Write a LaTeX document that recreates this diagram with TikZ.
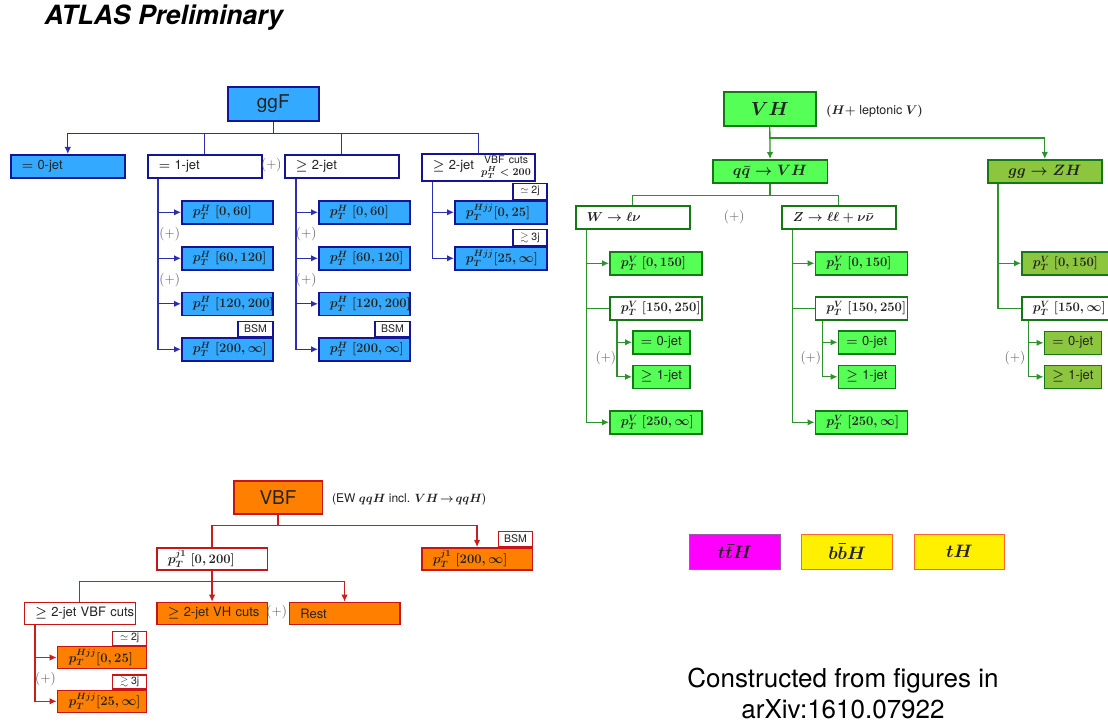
\RequirePackage{fix-cm}
\documentclass[tikz,border=0pt]{standalone}
\usepackage{amsmath,amssymb}
\usepackage[no-math]{fontspec}
\setmainfont{TeX Gyre Heros}
\usetikzlibrary{arrows.meta}

\newcommand\fsz[1]{\fontsize{#1}{#1}\selectfont}

% palette
\definecolor{ggblue}{RGB}{51,170,255}
\definecolor{ggedge}{RGB}{20,20,150}
\definecolor{ggwire}{RGB}{45,45,175}
\definecolor{vhgreen}{RGB}{85,255,85}
\definecolor{zhgreen}{RGB}{140,198,63}
\definecolor{vhedge}{RGB}{20,120,20}
\definecolor{vhwire}{RGB}{45,145,45}
\definecolor{vbforange}{RGB}{255,128,0}
\definecolor{vbfedge}{RGB}{200,20,20}
\definecolor{vbfwire}{RGB}{200,30,30}
\definecolor{tthmag}{RGB}{255,0,255}
\definecolor{tthedge}{RGB}{160,90,170}
\definecolor{bbhyellow}{RGB}{255,240,0}
\definecolor{bbhedge}{RGB}{255,100,50}
\definecolor{inkgray}{RGB}{35,35,35}
\definecolor{plusgray}{RGB}{85,85,85}

\tikzset{
  x=1pt, y=-1pt,
  boxbase/.style={rectangle, draw, line width=1.6pt, anchor=north west,
               inner xsep=0pt, inner ysep=0pt, minimum height=23pt,
               text=inkgray, font=\fsz{13}\boldmath},
  % left-aligned label, 11pt in from the left edge; width given as text width
  cell/.style={boxbase, align=left, execute at begin node={\noindent\hspace*{11pt}}},
  sub/.style={boxbase, align=left, text width=57pt, execute at begin node={\noindent\hspace*{8pt}}},
  head/.style={boxbase, align=center, font=\fsz{19}\boldmath},
  % ggF family
  ggf/.style={draw=ggedge, fill=ggblue},
  ggo/.style={draw=ggedge, fill=white},
  ggw/.style={draw=ggwire, line width=1.3pt},
  % VH family
  vhf/.style={draw=vhedge, fill=vhgreen},
  zhf/.style={draw=vhedge, fill=zhgreen},
  vho/.style={draw=vhedge, fill=white},
  vhw/.style={draw=vhwire, line width=1.3pt},
  % VBF family
  vbf/.style={draw=vbfedge, fill=vbforange},
  vbo/.style={draw=vbfedge, fill=white},
  vbw/.style={draw=vbfwire, line width=1.3pt},
  % small corner labels sitting on a box
  tag/.style={rectangle, draw, fill=white, line width=1.2pt, anchor=south east,
              inner sep=0pt, minimum width=34pt, minimum height=15pt,
              text=inkgray, font=\fsz{10.5}},
  plus/.style={text=plusgray, inner sep=0pt, font=\fsz{13.5}},
  note/.style={anchor=west, inner sep=0pt, text=inkgray, font=\fsz{12.5}\boldmath},
  tip/.style={-{Latex[length=7pt,width=6.5pt]}},
}

\begin{document}
\begin{tikzpicture}
\clip (0,0) rectangle (1108,722);
\fill[white] (0,0) rectangle (1108,722);

\node[anchor=base west, inner sep=0pt, font=\fsz{26.5}\bfseries\itshape] (title) at (44.5,25) {ATLAS Preliminary};

% ---------------- ggF ----------------
\node[head, ggf, minimum width=91pt, minimum height=34pt] (ggF) at (227,86) {ggF};
\node[cell, ggf, text width=114pt] (zero) at (10,154) {$=$ 0-jet};
\node[cell, ggo, text width=114pt] (one)  at (147,154) {$=$ 1-jet};
\node[cell, ggo, text width=114pt] (two)  at (284,154) {$\geq$ 2-jet};
\node[cell, ggo, text width=113pt, minimum height=27pt] (vbfc) at (421,153)
  {$\geq$ 2-jet\hfill{\fontsize{10.5}{11.5}\selectfont\begin{tabular}{@{}c@{}}VBF cuts\\$p_T^H<200$\end{tabular}}\hspace*{4pt}};
\node[plus] (plA) at (271.3,165.5) {$(+)$};

\node[cell, ggf, text width=91pt] (oa) at (181,200)   {$p_T^H\ [0,60]$};
\node[cell, ggf, text width=91pt] (ob) at (181,246)   {$p_T^H\ [60,120]$};
\node[cell, ggf, text width=91pt] (oc) at (181,291.5) {$p_T^H\ [120,200]$};
\node[cell, ggf, text width=91pt] (od) at (181,337)   {$p_T^H\ [200,\infty]$};
\node[tag, ggo, minimum width=35pt] (odt) at (od.north east) {BSM};
\node[plus] (plB) at (169.7,234.3) {$(+)$};
\node[plus] (plC) at (169.7,280) {$(+)$};

\node[cell, ggf, text width=91pt] (ta) at (318,200)   {$p_T^H\ [0,60]$};
\node[cell, ggf, text width=91pt] (tb) at (318,246)   {$p_T^H\ [60,120]$};
\node[cell, ggf, text width=91pt] (tc) at (318,291.5) {$p_T^H\ [120,200]$};
\node[cell, ggf, text width=91pt] (td) at (318,337)   {$p_T^H\ [200,\infty]$};
\node[tag, ggo, minimum width=35pt] (tdt) at (td.north east) {BSM};
\node[plus] (plD) at (306.2,234.3) {$(+)$};
\node[plus] (plE) at (306.2,280) {$(+)$};

\node[cell, ggf, text width=92pt] (va) at (454,200) {$p_T^{Hjj}[0,25]$};
\node[cell, ggf, text width=92pt] (vb) at (454,246) {$p_T^{Hjj}[25,\infty]$};
\node[tag, ggo, minimum height=16pt] (vat) at (va.north east) {$\simeq$ 2j};
\node[tag, ggo, minimum height=16pt] (vbt) at (vb.north east) {$\gtrsim$ 3j};

\draw[ggw] (ggF.south) -- ++(0,12) coordinate (ggbus);
\draw[ggw,tip] (ggbus) -| (zero.north);
\draw[ggw] (ggbus) -| (one.north);
\draw[ggw] (ggbus) -| (two.north);
\draw[ggw] (ggbus) -| (vbfc.north);
\foreach \c in {oa,ob,oc,od} \draw[ggw,tip] ([xshift=11pt]one.south west) |- (\c.west);
\foreach \c in {ta,tb,tc,td} \draw[ggw,tip] ([xshift=12pt]two.south west) |- (\c.west);
\foreach \c in {va,vb} \draw[ggw,tip] ([xshift=11.5pt]vbfc.south west) |- (\c.west);

% ---------------- VH ----------------
\node[head, vhf, minimum width=92pt, minimum height=34pt] (VH) at (723,91) {$VH$};
\node[note] (vhnote) at (826,111) {$(H+$ leptonic $V)$};
\node[head, vhf, minimum width=114.5pt, minimum height=23.5pt, font=\fsz{15}\boldmath] (qq) at (712,159) {$q\bar q\rightarrow VH$};
\node[head, zhf, minimum width=114pt, minimum height=23.5pt, font=\fsz{15}\boldmath] (zh) at (987,159) {$gg\rightarrow ZH$};
\node[cell, vho, text width=114pt] (wl) at (575,205) {$W\rightarrow \ell\nu$};
\node[cell, vho, text width=114pt] (zl) at (781,205) {$Z\rightarrow \ell\ell+\nu\bar\nu$};
\node[plus] (plF) at (734.2,217) {$(+)$};

\node[cell, vhf, text width=92pt] (wa)  at (609,251) {$p_T^V\ [0,150]$};
\node[cell, vho, text width=92pt] (wb)  at (609,296) {$p_T^V\ [150,250]$};
\node[sub,  vhf] (wc0) at (632,330)   {$=$ 0-jet};
\node[sub,  vhf] (wc1) at (632,364.5) {$\geq$ 1-jet};
\node[cell, vhf, text width=92pt] (wd)  at (609,410) {$p_T^V\ [250,\infty]$};
\node[plus] (plG) at (605.8,358.3) {$(+)$};

\node[cell, vhf, text width=92pt] (za)  at (814.5,251) {$p_T^V\ [0,150]$};
\node[cell, vho, text width=92pt] (zb)  at (814.5,296) {$p_T^V\ [150,250]$};
\node[sub,  vhf] (zc0) at (837.5,330)   {$=$ 0-jet};
\node[sub,  vhf] (zc1) at (837.5,364.5) {$\geq$ 1-jet};
\node[cell, vhf, text width=92pt] (zd)  at (814.5,410) {$p_T^V\ [250,\infty]$};
\node[plus] (plH) at (810.8,358.3) {$(+)$};

\node[cell, zhf, text width=92pt] (ga)  at (1021,251) {$p_T^V\ [0,150]$};
\node[cell, vho, text width=92pt] (gb)  at (1021,296) {$p_T^V\ [150,\infty]$};
\node[sub,  zhf] (gc0) at (1043.5,330.5) {$=$ 0-jet};
\node[sub,  zhf] (gc1) at (1043.5,364.5) {$\geq$ 1-jet};
\node[plus] (plI) at (1015,358.3) {$(+)$};

\draw[vhw,tip] (VH.south) -- (qq.north);
\draw[vhw,tip] (VH.south) -- ++(0,11.5) -| (zh.north);
\draw[vhw] (qq.south) -- ++(0,11.7) coordinate (qqbus);
\draw[vhw] (qqbus) -| (wl.north);
\draw[vhw] (qqbus) -| (zl.north);
\foreach \c in {wa,wd} \draw[vhw,tip] ([xshift=11.7pt]wl.south west) |- (\c.west);
\draw[vhw] ([xshift=11.7pt]wl.south west) |- (wb.west);
\foreach \c in {wc0,wc1} \draw[vhw,tip] ([xshift=8pt]wb.south west) |- (\c.west);
\foreach \c in {za,zd} \draw[vhw,tip] ([xshift=11.7pt]zl.south west) |- (\c.west);
\draw[vhw] ([xshift=11.7pt]zl.south west) |- (zb.west);
\foreach \c in {zc0,zc1} \draw[vhw,tip] ([xshift=8pt]zb.south west) |- (\c.west);
\draw[vhw,tip] ([xshift=11pt]zh.south west) |- (ga.west);
\draw[vhw] ([xshift=11pt]zh.south west) |- (gb.west);
\foreach \c in {gc0,gc1} \draw[vhw,tip] ([xshift=7.5pt]gb.south west) |- (\c.west);

% ---------------- VBF ----------------
\node[head, vbf, minimum width=88.5pt, minimum height=33pt] (VBF) at (233,480) {VBF};
\node[note, font=\fsz{12}\boldmath] (vbfnote) at (332,499) {(EW $qqH$ incl. $VH\!\rightarrow\! qqH$)};
\node[cell, vbo, text width=110.5pt, minimum height=22pt] (j1) at (156,547) {$p_T^{j1}\ [0,200]$};
\node[cell, vbf, text width=110.5pt, minimum height=22pt] (j2) at (421,547) {$p_T^{j1}\ [200,\infty]$};
\node[tag, vbo] (j2t) at (j2.north east) {BSM};
\node[cell, vbo, text width=111pt, minimum height=22pt] (vc)   at (23.5,601.7) {$\geq$ 2-jet VBF cuts};
\node[cell, vbf, text width=110.5pt, minimum height=22pt] (vhc) at (156,601.7)  {$\geq$ 2-jet VH cuts};
\node[cell, vbf, text width=110.5pt, minimum height=22pt] (rest) at (288.5,601.7) {Rest};
\node[plus] (plJ) at (276.7,611.7) {$(+)$};

\node[cell, vbf, text width=89pt, minimum height=22pt] (ra) at (56.7,645.7) {$p_T^{Hjj}[0,25]$};
\node[cell, vbf, text width=89pt, minimum height=22pt] (rb) at (56.7,689.5) {$p_T^{Hjj}[25,\infty]$};
\node[tag, vbo, minimum height=14pt] (rat) at (ra.north east) {$\simeq$ 2j};
\node[tag, vbo, minimum height=14pt] (rbt) at (rb.north east) {$\gtrsim$ 3j};
\node[plus] (plK) at (45.5,679) {$(+)$};

\draw[vbw] (VBF.south) -- ++(0,11) coordinate (vbus);
\draw[vbw] (vbus) -| (j1.north);
\draw[vbw,tip] (vbus) -| (j2.north);
\draw[vbw,tip] (j1.south) -- (vhc.north);
\draw[vbw] (j1.south) -- ++(0,10.6) coordinate (jbus);
\draw[vbw] (jbus) -| (vc.north);
\draw[vbw,tip] (jbus) -| (rest.north);
\foreach \c in {ra,rb} \draw[vbw,tip] ([xshift=11.5pt]vc.south west) |- (\c.west);

% ---------------- other modes ----------------
\node[head, draw=tthedge, fill=tthmag, minimum width=90.5pt, minimum height=35pt, font=\fsz{18}\boldmath, line width=1.4pt] (tth) at (689,533.5) {$t\bar tH$};
\node[head, draw=bbhedge, fill=bbhyellow, minimum width=91pt, minimum height=35pt, font=\fsz{18}\boldmath, line width=1.4pt] (bbh) at (801,533.5) {$b\bar bH$};
\node[head, draw=bbhedge, fill=bbhyellow, minimum width=90.5pt, minimum height=35pt, font=\fsz{18}\boldmath, line width=1.4pt] (th) at (913.5,533.5) {$tH$};

\node[anchor=north, inner sep=0pt, align=center, font=\fontsize{26}{31}\selectfont] (credit) at (843,667.5)
  {Constructed from figures in\\arXiv:1610.07922};
\end{tikzpicture}
\end{document}
